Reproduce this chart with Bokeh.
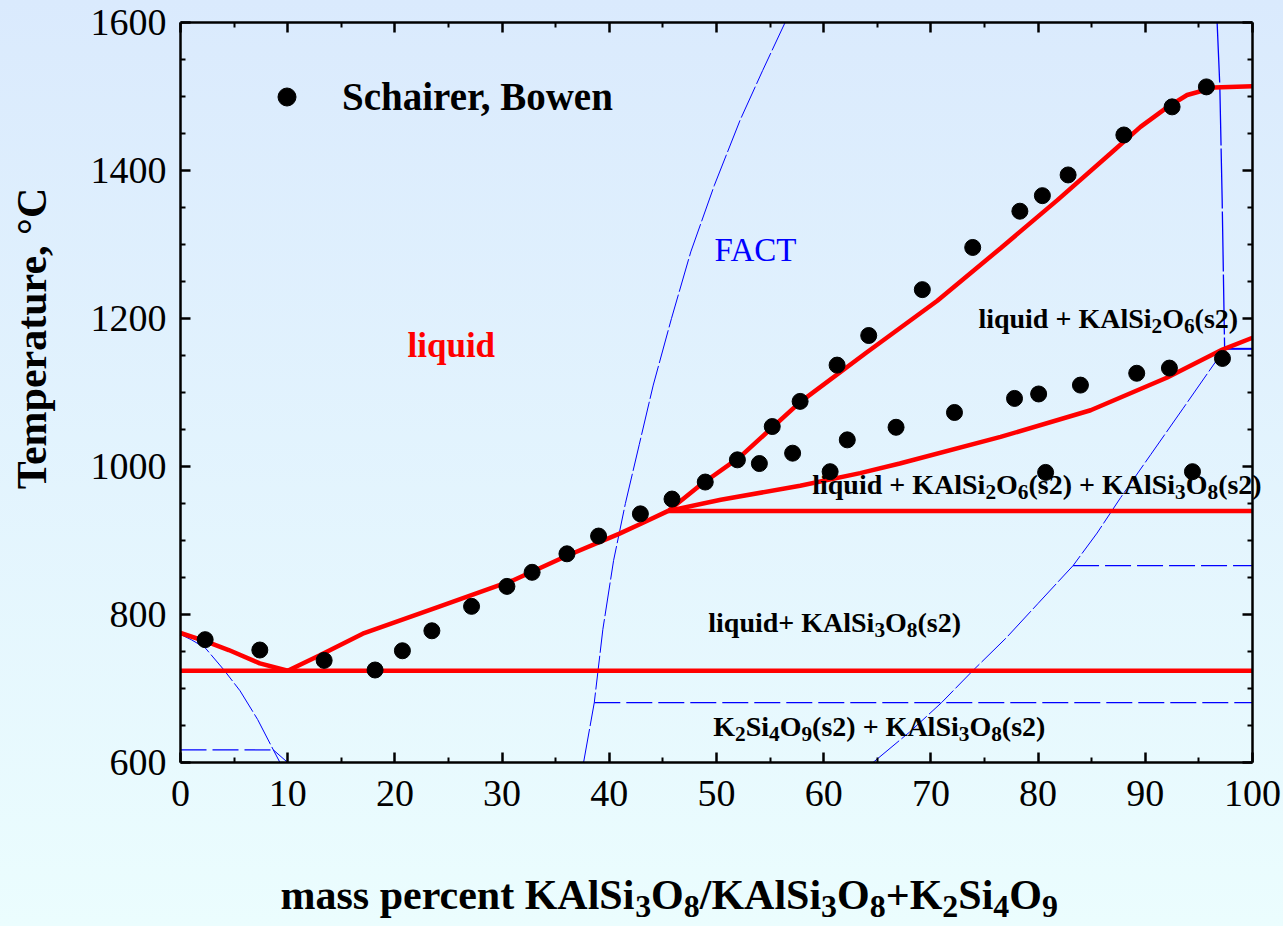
import math

from bokeh.plotting import figure
from bokeh.models import (Range1d, LinearAxis, FixedTicker, Legend, LegendItem,
                          ColumnDataSource)
from bokeh.core.properties import value
from bokeh.embed import file_html
from bokeh.resources import INLINE

# ---- axis ticks -----------------------------------------------------------
x_major = [0, 10, 20, 30, 40, 50, 60, 70, 80, 90, 100]
x_minor = [5, 15, 25, 35, 45, 55, 65, 75, 85, 95]
y_major = [600, 800, 1000, 1200, 1400, 1600]
y_minor = [650, 700, 750, 850, 900, 950, 1050, 1100, 1150, 1250, 1300, 1350,
           1450, 1500, 1550]
x_lim = (0, 100)
y_lim = (600, 1600)

# ---- experimental points (Schairer, Bowen) --------------------------------
exp_x = [2.3, 7.4, 13.4, 18.15, 20.7, 23.45, 27.15, 30.45, 32.8, 36.05, 39.0,
         42.9, 45.85, 48.95, 51.95, 54.0, 55.2, 57.1, 57.8, 60.6, 61.25, 62.2,
         64.2, 66.75, 69.2, 72.2, 73.9, 77.8, 78.3, 80.05, 80.4, 80.7, 82.8,
         83.95, 88.0, 89.2, 92.25, 92.5, 94.4, 95.7, 97.2]
exp_T = [766, 752, 738, 725, 751, 778, 811, 838, 857, 882, 906,
         936, 956, 979, 1009, 1004, 1054, 1018, 1088, 993, 1137, 1036,
         1177, 1053, 1239, 1073, 1296, 1092, 1345, 1098, 1366, 992, 1394,
         1110, 1448, 1126, 1133, 1486, 993, 1513, 1146]

# ---- calculated phase boundaries (red) ------------------------------------
liq_k2_x = [0, 2.3, 4.5, 7.4, 10]
liq_k2_T = [775, 764, 752, 734, 724]
liq_fsp_x = [10, 13, 17, 24, 31, 36, 40.9, 43, 45.5]
liq_fsp_T = [724, 745, 774, 810, 846, 879, 909, 923, 940]
liq_lc_x = [45.5, 48.5, 52.2, 57.8, 64, 70.6, 76.5, 81.8, 86.75, 89.55, 92,
            93.9, 96.4, 100]
liq_lc_T = [940, 975, 1013, 1087, 1154, 1224, 1295, 1360, 1423, 1459, 1485,
            1502, 1512, 1514]
lc_fsp_x = [45.5, 50.4, 57.8, 63.4, 67.1, 76.5, 84.9, 92.0, 97.2, 100]
lc_fsp_T = [940, 955, 974, 991, 1004, 1040, 1076, 1120, 1158, 1174]
eutectic_T = 724
peritectic_T = 940
peritectic_x = 45.5

# ---- FACT boundaries (blue) -----------------------------------------------
fact_a_x = [0, 1, 2.3, 4.0, 5.55, 7.2, 8.66, 9.28]
fact_a_T = [773, 766, 755, 726, 697, 658, 617, 600]
fact_a_tail_x = [8.66, 10]
fact_a_tail_T = [617, 600]
fact_a_iso_T = 617
fact_b_x = [37.6, 38.6, 39.4, 40.4, 41.5, 42.8, 44.1, 45.8, 47.6, 49.8, 52.2,
            54.3, 56.4]
fact_b_T = [600, 681, 780, 873, 950, 1030, 1110, 1200, 1290, 1380, 1468,
            1535, 1600]
fact_b_iso_T = 681
fact_c_x = [64.6, 68, 71, 73.9, 77, 80, 83.26, 85.5, 87.7, 90.5, 93.5, 97.4]
fact_c_T = [600, 641, 681, 724, 768, 815, 866, 910, 958, 1016, 1078, 1159]
fact_c_iso_T = 866
fact_d_x = [96.7, 96.95, 97.17, 97.4]
fact_d_T = [1600, 1515, 1360, 1159]
fact_d_iso_T = 1159

# ---- text ------------------------------------------------------------------
SERIF = "Liberation Serif"
RED = "#FF0000"
BLUE = "#0000FF"

region_texts = ["liquid + KAlSi_2O_6(s2)",
                "liquid + KAlSi_2O_6(s2) + KAlSi_3O_8(s2)",
                "liquid+ KAlSi_3O_8(s2)",
                "K_2Si_4O_9(s2) + KAlSi_3O_8(s2)"]
region_x = [74.43, 58.93, 49.23, 49.7]
region_T = [1186, 962, 775, 635]
region_size = 28

x_title = "mass percent KAlSi_3O_8/KAlSi_3O_8+K_2Si_4O_9"
y_title = "Temperature, °C"
title_size = 42

# ---- canvas geometry: the frame spans the whole page, the axes sit at
#      fixed data positions inside it -------------------------------------
W, H = 1283, 926
PX_L, PX_R, PX_T, PX_B = 180, 1252, 22, 762
SX = (PX_R - PX_L) / (x_lim[1] - x_lim[0])       # px per mass-%
SY = (PX_B - PX_T) / (y_lim[1] - y_lim[0])       # px per degree
x_rng = (x_lim[0] - PX_L / SX, x_lim[1] + (W - PX_R) / SX)
y_rng = (y_lim[0] - (H - PX_B) / SY, y_lim[1] + PX_T / SY)


def px_to_x(px):
    return x_lim[0] + (px - PX_L) / SX


def px_to_T(py):
    return y_lim[0] + (PX_B - py) / SY


# the svg text renderer places an "alphabetic" anchor this far (in em)
# above the real baseline; compensate so baselines land where asked
BASE_FIX = 0.37

# Times bold advance widths (1/1000 em) used to lay out chemical formulas
TB = {' ': 250, '+': 570, '(': 333, ')': 333, '/': 278, ',': 250,
      'K': 778, 'A': 722, 'S': 556, 'O': 778, 'l': 278, 'i': 278, 'q': 556,
      'u': 556, 'd': 556, 's': 389, 'm': 833, 'a': 500, 'p': 556, 'e': 444,
      'r': 444, 'c': 444, 'n': 556, 't': 333}
SUB_SCALE = 0.76
SUB_DROP = 0.19


def width_px(s, size):
    return sum(TB.get(ch, 500) for ch in s) / 1000.0 * size


def split_formula(s):
    """Split 'KAlSi_3O_8' style strings into (text, is_subscript) runs."""
    runs, buf, i = [], "", 0
    while i < len(s):
        if s[i] == "_":
            if buf:
                runs.append((buf, False))
                buf = ""
            runs.append((s[i + 1], True))
            i += 2
        else:
            buf += s[i]
            i += 1
    if buf:
        runs.append((buf, False))
    return runs


p = figure(width=W, height=H, x_range=Range1d(*x_rng), y_range=Range1d(*y_rng),
           output_backend="svg", toolbar_location=None,
           x_axis_location=None, y_axis_location=None, min_border=0)
p.background_fill_color = None
p.border_fill_color = None
p.outline_line_color = None
p.xgrid.visible = False
p.ygrid.visible = False
p.styles = {"background": "linear-gradient(to bottom, #DAEAFD 0%, #EBFDFE 100%)"}


def make_axis(side, at, bounds, ticks, minor, show_labels, standoff=0):
    ax = LinearAxis(fixed_location=at, bounds=bounds,
                    ticker=FixedTicker(ticks=ticks, minor_ticks=minor))
    ax.axis_line_color = "black"
    ax.axis_line_width = 2.5
    ax.major_tick_line_color = "black"
    ax.major_tick_line_width = 2.5
    ax.minor_tick_line_color = "black"
    ax.minor_tick_line_width = 2
    ax.major_tick_in = 10
    ax.major_tick_out = 0
    ax.minor_tick_in = 5
    ax.minor_tick_out = 0
    if show_labels:
        ax.major_label_text_font = SERIF
        ax.major_label_text_font_size = "38px"
        ax.major_label_text_color = "black"
        ax.major_label_standoff = standoff
    else:
        ax.major_label_text_color = None
    p.add_layout(ax, side)
    return ax


make_axis("below", y_lim[0], x_lim, x_major, x_minor, True, standoff=18)
make_axis("above", y_lim[1], x_lim, x_major, x_minor, False)
make_axis("left", x_lim[0], y_lim, y_major, y_minor, True, standoff=14)
make_axis("right", x_lim[1], y_lim, y_major, y_minor, False)

# ---- FACT curves ------------------------------------------------------------
curve_dash = "34 3"
iso_dash = "26 6"
p.line(fact_a_x, fact_a_T, color=BLUE, line_width=1, line_dash=curve_dash)
p.line(fact_a_tail_x, fact_a_tail_T, color=BLUE, line_width=1)
p.line([x_lim[0], fact_a_x[-2]], [fact_a_iso_T, fact_a_iso_T], color=BLUE,
       line_width=1.2, line_dash=iso_dash)
p.line(fact_b_x, fact_b_T, color=BLUE, line_width=1, line_dash=curve_dash)
p.line([fact_b_x[1], x_lim[1]], [fact_b_iso_T, fact_b_iso_T], color=BLUE,
       line_width=1.2, line_dash=iso_dash)
p.line(fact_c_x, fact_c_T, color=BLUE, line_width=1, line_dash=curve_dash)
p.line([fact_c_x[6], x_lim[1]], [fact_c_iso_T, fact_c_iso_T], color=BLUE,
       line_width=1.2, line_dash=iso_dash)
p.line(fact_d_x, fact_d_T, color=BLUE, line_width=1.3, line_dash="60 3")
p.line([fact_d_x[-1], x_lim[1]], [fact_d_iso_T, fact_d_iso_T], color=BLUE,
       line_width=2)

# ---- calculated diagram -----------------------------------------------------
RW = 4.5
p.line(liq_k2_x, liq_k2_T, color=RED, line_width=RW)
p.line(liq_fsp_x, liq_fsp_T, color=RED, line_width=RW)
p.line(liq_lc_x, liq_lc_T, color=RED, line_width=RW)
p.line(lc_fsp_x, lc_fsp_T, color=RED, line_width=RW)
p.line([x_lim[0], x_lim[1]], [eutectic_T, eutectic_T], color=RED,
       line_width=RW)
p.line([peritectic_x, x_lim[1]], [peritectic_T, peritectic_T], color=RED,
       line_width=RW)

# ---- experimental points ----------------------------------------------------
pts = p.scatter(exp_x, exp_T, size=16, color="black", marker="circle")

legend = Legend(items=[LegendItem(label="Schairer, Bowen", renderers=[pts])],
                location=(264, 807), glyph_width=45, glyph_height=45,
                label_standoff=33, padding=0, margin=0, spacing=0,
                border_line_color=None, background_fill_alpha=0,
                label_text_font=SERIF, label_text_font_style="bold",
                label_text_font_size="39px", label_text_color="black")
p.add_layout(legend)


def put_text(x, T, txt, size, color, style="bold"):
    p.text(x=[x], y=[T + BASE_FIX * size / SY], text=[txt],
           text_font=value(SERIF), text_font_style=style,
           text_font_size=f"{size}px", text_color=color,
           text_baseline="alphabetic", text_align="left")


# ---- region labels ----------------------------------------------------------
put_text(px_to_x(407), px_to_T(358), "liquid", 35, RED)
put_text(px_to_x(714), px_to_T(262), "FACT", 33, BLUE, style="normal")


def draw_formula(s, x0, T0, size):
    """Draw a formula as baseline runs plus lowered, smaller subscript runs."""
    rows = []
    off = 0.0
    for txt, sub in split_formula(s):
        fs = size * SUB_SCALE if sub else size
        dT = -SUB_DROP * size / SY if sub else 0.0
        rows.append((txt, x0, T0 + dT + BASE_FIX * fs / SY, off, fs, sub))
        off += width_px(txt, fs)
    for is_sub in (False, True):
        sel = [r for r in rows if r[5] == is_sub]
        if not sel:
            continue
        src = ColumnDataSource(dict(x=[r[1] for r in sel], y=[r[2] for r in sel],
                                    text=[r[0] for r in sel],
                                    xo=[r[3] for r in sel]))
        p.text(x="x", y="y", text="text", x_offset="xo", source=src,
               text_font=value(SERIF), text_font_style="bold",
               text_font_size=f"{sel[0][4]:.1f}px", text_color="black",
               text_baseline="alphabetic", text_align="left")


for s, x0, T0 in zip(region_texts, region_x, region_T):
    draw_formula(s, x0, T0, region_size)

# ---- axis titles ------------------------------------------------------------
draw_formula(x_title, px_to_x(280), px_to_T(910), title_size)
p.text(x=[px_to_x(47 - BASE_FIX * title_size)], y=[px_to_T(338)],
       text=[y_title], angle=math.pi / 2,
       text_font=value(SERIF), text_font_style="bold",
       text_font_size=f"{title_size}px", text_color="black",
       text_baseline="alphabetic", text_align="center")

open("out.html", "w").write(file_html(p, INLINE))
